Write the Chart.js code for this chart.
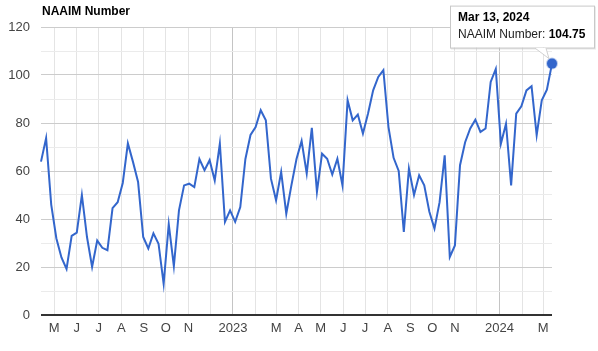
<!DOCTYPE html>
<html><head><meta charset="utf-8">
<script src="https://cdn.jsdelivr.net/npm/chart.js@4.4.1/dist/chart.umd.min.js"></script>
<style>html,body{margin:0;padding:0;background:#fff;}#wrap{width:598px;height:351px;position:relative;}</style>
</head><body><div id="wrap"><canvas id="c" width="598" height="351"></canvas></div>
<script>
const chartTitle = 'NAAIM Number';
const seriesName = 'NAAIM Number';
const firstWeek = '2022-04-13';
const naaimValues = [
  63.9, 73.7, 46, 32, 24, 19.2, 33, 34.3, 50, 32.5,
  20, 31, 28, 27, 44.5, 47, 55, 71.5, 63.8, 55.4,
  32.5, 27.7, 34, 29.7, 13, 37.8, 20.4, 43.6, 54, 54.7,
  53.3, 65, 60.3, 64.5, 56, 71.4, 38.8, 43.6, 38.8, 45,
  65, 75, 78.3, 85.3, 81.1, 56.8, 47.8, 59.6, 42.2, 54,
  65, 72.5, 59, 78, 51.3, 67.2, 65.1, 58.5, 65.1, 54,
  89.5, 81.1, 83.5, 75.6, 84, 93.6, 99.2, 102, 78.3, 65.5,
  60, 34.6, 61, 50, 58.2, 54, 43, 36, 47, 66.5,
  24.2, 29, 62.4, 72, 77.7, 81.4, 76.3, 77.7, 97.1, 102.5,
  71.4, 79.7, 54, 83.9, 87, 93.6, 95.3, 74.9, 89.5, 93.9,
  104.75
];
const tickDates = ['2022-05-01','2022-06-01','2022-07-01','2022-08-01','2022-09-01','2022-10-01','2022-11-01','2022-12-01',
  '2023-01-01','2023-02-01','2023-03-01','2023-04-01','2023-05-01','2023-06-01','2023-07-01','2023-08-01','2023-09-01',
  '2023-10-01','2023-11-01','2023-12-01','2024-01-01','2024-02-01','2024-03-01'];
const tickLabels = ['M','J','J','A','S','O','N','',
  '2023','','M','A','M','J','J','A','S','O','N','','2024','','M'];
const yTicks = [0, 20, 40, 60, 80, 100, 120];
const monthNames = ['Jan','Feb','Mar','Apr','May','Jun','Jul','Aug','Sep','Oct','Nov','Dec'];

const DAY = 86400000;
function toDay(s){ const p = s.split('-').map(Number); return Date.UTC(p[0], p[1]-1, p[2]) / DAY; }
const startDay = toDay(firstWeek);
const points = naaimValues.map((v, i) => ({ x: startDay + 7 * i, y: v }));
const endDay = points[points.length - 1].x;
const tickDayList = tickDates.map(toDay);
const yearTick = new Set(tickDates.map((d, i) => d.endsWith('-01-01') ? tickDayList[i] : null).filter(v => v !== null));

const FONT = '"Liberation Sans", Arial, sans-serif';
Chart.defaults.font.family = FONT;

const overlay = {
  id: 'overlay',
  afterDraw(chart) {
    const ctx = chart.ctx;
    const ca = chart.chartArea;
    ctx.save();
    ctx.fillStyle = '#000';
    ctx.font = 'bold 12px ' + FONT;
    ctx.textBaseline = 'middle';
    ctx.textAlign = 'left';
    ctx.fillText(chartTitle, ca.left + 1, 12);

    const meta = chart.getDatasetMeta(0);
    const last = meta.data[meta.data.length - 1];
    const px = last.x, py = last.y;
    const bx = px - 102, by = py - 58, bw = 144, bh = 42;
    // shadow
    ctx.fillStyle = 'rgba(0,0,0,0.08)';
    ctx.fillRect(bx + 1, by + 1, bw + 1, bh + 1);
    ctx.fillStyle = '#fff';
    ctx.strokeStyle = '#c8c8c8';
    ctx.lineWidth = 1;
    ctx.fillRect(bx, by, bw, bh);
    ctx.strokeRect(bx + 0.5, by + 0.5, bw, bh);
    // tail
    ctx.beginPath();
    ctx.moveTo(px - 17, by + bh + 0.5);
    ctx.lineTo(px - 3, py - 5);
    ctx.lineTo(px - 6, by + bh + 0.5);
    ctx.closePath();
    ctx.fillStyle = '#fff';
    ctx.fill();
    ctx.beginPath();
    ctx.moveTo(px - 17, by + bh + 0.5);
    ctx.lineTo(px - 3, py - 5);
    ctx.lineTo(px - 6, by + bh + 0.5);
    ctx.strokeStyle = '#d0d0d0';
    ctx.stroke();

    const d = new Date(endDay * DAY);
    const dateStr = monthNames[d.getUTCMonth()] + ' ' + d.getUTCDate() + ', ' + d.getUTCFullYear();
    ctx.fillStyle = '#000';
    ctx.font = 'bold 12px ' + FONT;
    ctx.fillText(dateStr, bx + 8, by + 12);
    ctx.font = '12px ' + FONT;
    ctx.fillStyle = '#222';
    const lab = seriesName + ': ';
    ctx.fillText(lab, bx + 8, by + 29);
    const w = ctx.measureText(lab).width;
    ctx.font = 'bold 12px ' + FONT;
    ctx.fillStyle = '#000';
    ctx.fillText(String(naaimValues[naaimValues.length - 1]), bx + 8 + w, by + 29);
    ctx.restore();
  }
};

new Chart(document.getElementById('c'), {
  type: 'line',
  data: {
    datasets: [{
      label: seriesName,
      data: points,
      borderColor: '#3366cc',
      borderWidth: 2,
      tension: 0,
      fill: false,
      clip: 12,
      pointRadius: points.map((p, i) => i === points.length - 1 ? 5 : 0),
      pointBackgroundColor: '#3366cc',
      pointBorderColor: 'rgba(51,102,204,0.35)',
      pointBorderWidth: 2,
      pointHoverRadius: 0
    }]
  },
  options: {
    responsive: false,
    animation: false,
    events: [],
    layout: { padding: { left: 0, right: 46, top: 27, bottom: 0 } },
    plugins: { legend: { display: false }, tooltip: { enabled: false }, title: { display: false } },
    scales: {
      x: {
        type: 'linear',
        min: startDay,
        max: endDay,
        afterBuildTicks(scale) { scale.ticks = tickDayList.map(v => ({ value: v })); },
        afterFit(scale) { scale.height = 36; },
        border: { display: false },
        grid: {
          drawTicks: false,
          color: ctx => (ctx.tick && yearTick.has(ctx.tick.value)) ? '#c4c4c4' : '#e4e4e4',
          lineWidth: 1
        },
        ticks: {
          autoSkip: false,
          maxRotation: 0,
          padding: 6,
          color: '#444',
          font: { size: 13, family: FONT },
          callback(v) { const i = tickDayList.indexOf(v); return i >= 0 ? tickLabels[i] : ''; }
        }
      },
      y: {
        min: 0,
        max: 120,
        afterBuildTicks(scale) {
          const t = [];
          for (let v = 0; v <= 120; v += 10) t.push({ value: v });
          scale.ticks = t;
        },
        afterFit(scale) { scale.width = 41; },
        border: { display: false },
        grid: {
          drawTicks: false,
          color: ctx => {
            const v = ctx.tick ? ctx.tick.value : -1;
            if (v === 0) return '#333';
            return yTicks.includes(v) ? '#cccccc' : '#ebebeb';
          },
          lineWidth: ctx => (ctx.tick && ctx.tick.value === 0) ? 2 : 1
        },
        ticks: {
          padding: 11,
          color: '#444',
          font: { size: 13, family: FONT },
          callback(v) { return yTicks.includes(v) ? String(v) : ''; }
        }
      }
    }
  },
  plugins: [overlay]
});
</script>
</body></html>
